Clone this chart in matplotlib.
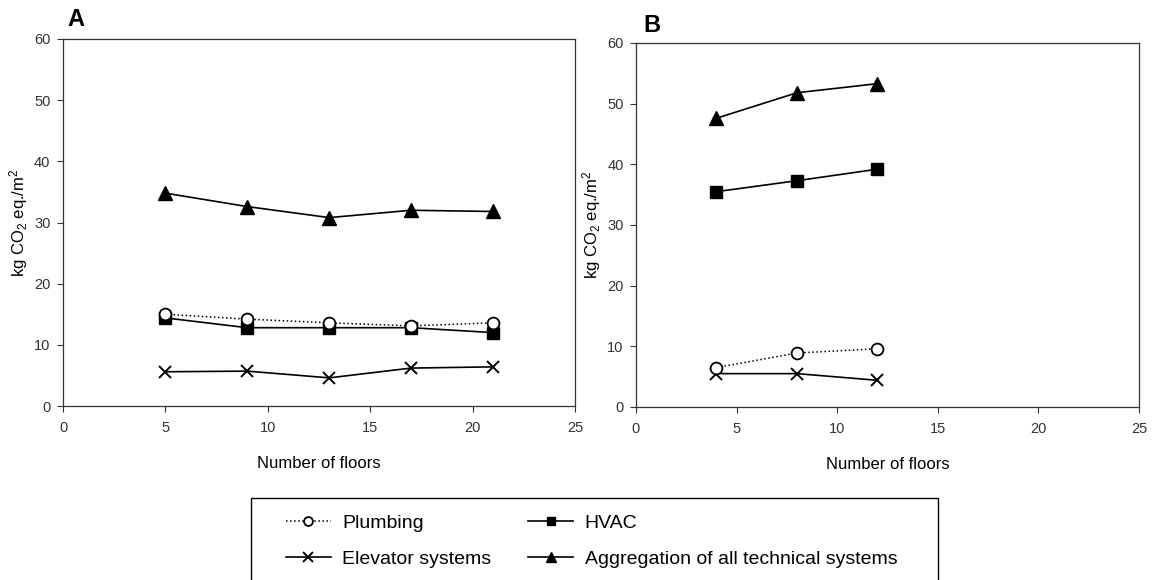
import matplotlib
matplotlib.use("Agg")
import matplotlib.pyplot as plt
from matplotlib.patches import Rectangle

plt.rcParams['font.family'] = ['Liberation Sans', 'DejaVu Sans']
plt.rcParams['mathtext.fontset'] = 'custom'
plt.rcParams['mathtext.rm'] = 'Liberation Sans'
plt.rcParams['mathtext.it'] = 'Liberation Sans'

# panel A
floors_a = [5, 9, 13, 17, 21]
plumbing_a = [15.0, 14.2, 13.6, 13.1, 13.6]
hvac_a = [14.4, 12.8, 12.8, 12.8, 12.0]
elevator_a = [5.6, 5.7, 4.6, 6.2, 6.4]
aggregate_a = [34.8, 32.6, 30.8, 32.0, 31.8]

# panel B
floors_b = [4, 8, 12]
plumbing_b = [6.5, 8.9, 9.6]
hvac_b = [35.5, 37.3, 39.2]
elevator_b = [5.5, 5.5, 4.4]
aggregate_b = [47.6, 51.8, 53.3]

W, H = 1155, 580
fig = plt.figure(figsize=(W / 100, H / 100), dpi=100)
axA = fig.add_axes([63 / W, 1 - 406 / H, (575 - 63) / W, (406 - 39) / H])
axB = fig.add_axes([636 / W, 1 - 407 / H, (1139 - 636) / W, (407 - 43) / H])


def draw(ax, x, plumb, hvac, elev, agg):
    ax.plot(x, plumb, color='black', linestyle=':', linewidth=1.1, marker='o',
            markersize=8.5, markerfacecolor='white', markeredgecolor='black',
            markeredgewidth=1.3, label='Plumbing', zorder=4)
    ax.plot(x, hvac, color='black', linewidth=1.2, marker='s', markersize=8.5,
            label='HVAC', zorder=3)
    ax.plot(x, elev, color='black', linewidth=1.2, marker='x', markersize=9,
            markeredgewidth=1.4, label='Elevator systems', zorder=3)
    ax.plot(x, agg, color='black', linewidth=1.2, marker='^', markersize=10,
            label='Aggregation of all technical systems', zorder=3)
    ax.set_xlim(0, 25)
    ax.set_ylim(0, 60)
    ax.set_xticks([0, 5, 10, 15, 20, 25])
    ax.set_yticks([0, 10, 20, 30, 40, 50, 60])
    ax.tick_params(direction='out', length=4, width=0.8, labelsize=10.5,
                   colors='#333333', pad=5)
    ax.tick_params(axis='x', pad=7)
    for s in ax.spines.values():
        s.set_linewidth(0.9)
        s.set_color('#333333')
    ax.set_xlabel('Number of floors', fontsize=12, labelpad=15)
    ax.set_ylabel('kg CO$_2$ eq./m$^2$', fontsize=12, labelpad=3)


draw(axA, floors_a, plumbing_a, hvac_a, elevator_a, aggregate_a)
draw(axB, floors_b, plumbing_b, hvac_b, elevator_b, aggregate_b)

fig.text(67 / W, 1 - 20 / H, 'A', fontsize=17, fontweight='bold', va='center')
fig.text(643 / W, 1 - 25 / H, 'B', fontsize=17, fontweight='bold', va='center')

# legend box (runs off the bottom edge like the source)
fig.patches.append(Rectangle((251 / W, -0.05), (938 - 251) / W, 0.05 + 1 - 498 / H,
                             transform=fig.transFigure, fill=False,
                             edgecolor='black', linewidth=1.0))

handles, labels = axA.get_legend_handles_labels()
order = [0, 2, 1, 3]
leg = fig.legend([handles[i] for i in order], [labels[i] for i in order],
                 ncol=2, loc='upper left', bbox_to_anchor=(286 / W, 1 - 514 / H),
                 fontsize=14, frameon=False, borderpad=0, borderaxespad=0,
                 handlelength=2.3, handletextpad=0.6, columnspacing=1.9,
                 labelspacing=0.95, markerscale=0.75)

fig.savefig('out.png', dpi=100)
